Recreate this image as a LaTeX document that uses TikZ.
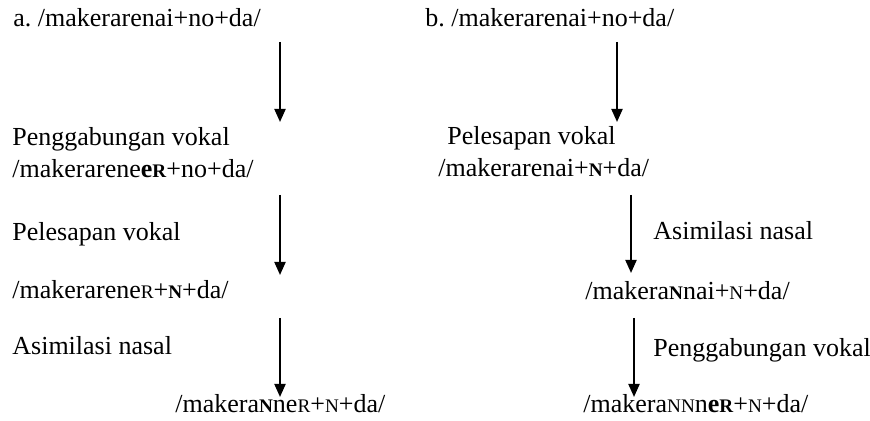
\documentclass[tikz,border=0pt]{standalone}
\usepackage{fontspec}
\setmainfont{Liberation Serif}
\usetikzlibrary{arrows.meta}
\newcommand\smcp[1]{{\fontsize{9.6pt}{10pt}\selectfont #1}}
\frenchspacing

\begin{document}
\begin{tikzpicture}[x=0.5pt, y=0.5pt, font=\fontsize{13pt}{15pt}\selectfont,
                    every node/.style={inner sep=0pt, anchor=base west},
                    derive/.style={line width=1pt, -{Triangle[width=5.5pt, length=6.5pt]}}]
  \useasboundingbox (0,0) rectangle (870,421);

  % Left derivation
  \node (a0) at (13, 394) {a. /makerarenai+no+da/};
  \node (la1) at (12, 275) {Penggabungan vokal};
  \node (lf1) at (12, 243) {/makerarene\textbf{e\smcp{R}}+no+da/};
  \node (la2) at (12, 180) {Pelesapan vokal};
  \node (lf2) at (12, 122) {/makerarene\smcp{R}+\textbf{\smcp{N}}+da/};
  \node (la3) at (12, 66) {Asimilasi nasal};
  \node (lf3) at (175, 8) {/makera\textbf{\smcp{N}}ne\smcp{R}+\smcp{N}+da/};
  \coordinate (l1s) at (280, 379); \coordinate (l1e) at (280, 299);
  \coordinate (l2s) at (280, 226); \coordinate (l2e) at (280, 146);
  \coordinate (l3s) at (280, 103); \coordinate (l3e) at (280, 24);
  \draw[derive] (l1s) -- (l1e);
  \draw[derive] (l2s) -- (l2e);
  \draw[derive] (l3s) -- (l3e);

  % Right derivation
  \node (b0) at (425, 394) {b. /makerarenai+no+da/};
  \node (ra1) at (447, 276) {Pelesapan vokal};
  \node (rf1) at (438, 244) {/makerarenai+\textbf{\smcp{N}}+da/};
  \node (ra2) at (653, 181) {Asimilasi nasal};
  \node (rf2) at (585, 121) {/makera\textbf{\smcp{N}}nai+\smcp{N}+da/};
  \node (ra3) at (653, 64) {Penggabungan vokal};
  \node (rf3) at (583, 8) {/makera\smcp{N}\smcp{N}n\textbf{e\smcp{R}}+\smcp{N}+da/};
  \coordinate (r1s) at (617, 379); \coordinate (r1e) at (617, 299);
  \coordinate (r2s) at (631, 226); \coordinate (r2e) at (631, 148);
  \coordinate (r3s) at (634, 103); \coordinate (r3e) at (634, 24);
  \draw[derive] (r1s) -- (r1e);
  \draw[derive] (r2s) -- (r2e);
  \draw[derive] (r3s) -- (r3e);
\end{tikzpicture}
\end{document}
